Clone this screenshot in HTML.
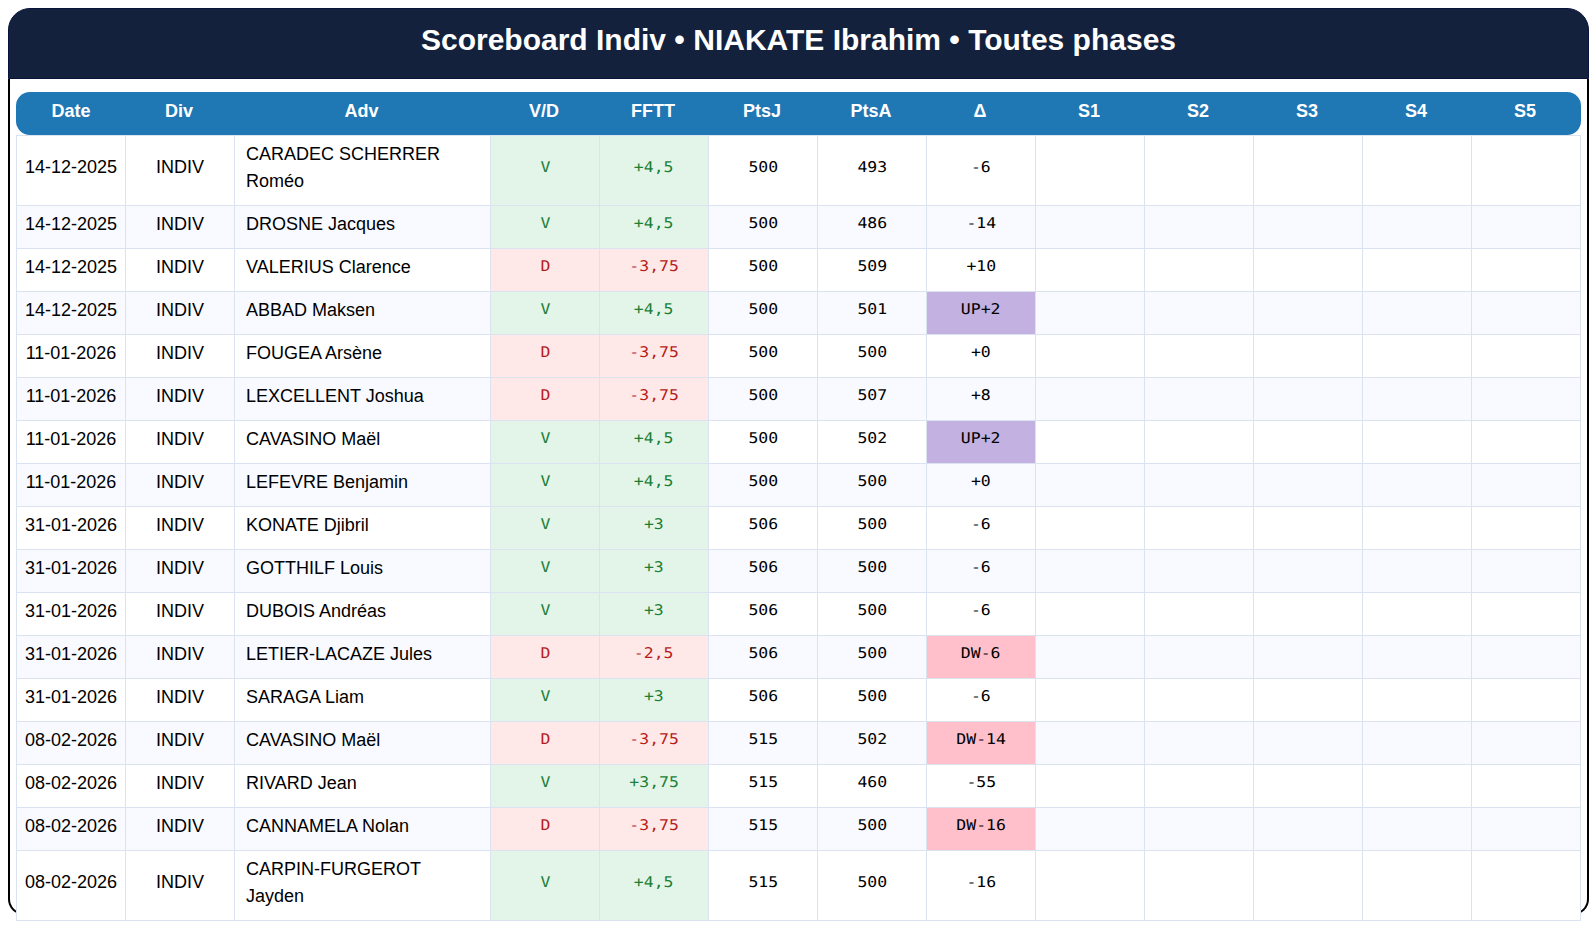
<!DOCTYPE html><html lang="fr"><head><meta charset="utf-8"><title>Scoreboard Indiv</title><style>
html,body{margin:0;padding:0;background:#fff;}
body{width:1596px;height:927px;overflow:hidden;position:relative;font-family:"Liberation Sans",Arial,sans-serif;color:#000;}
.card{position:absolute;left:8px;top:79px;width:1581px;height:836px;box-sizing:border-box;border:2px solid #000;border-top:none;border-radius:0 0 16px 16px;background:#fff;}
.title{position:absolute;left:8px;top:8px;width:1581px;height:71px;box-sizing:border-box;border:1px solid #07133a;border-radius:22px 22px 0 0;background:#14213d;color:#fff;font-weight:bold;font-size:30px;line-height:62px;text-align:center;}
table{position:absolute;left:16px;top:92px;width:1565px;border-collapse:separate;border-spacing:0;table-layout:fixed;}
col.c1{width:110px}col.cn{width:109px}col.ca{width:256px}
th{background:#1f77b4;color:#fff;font-weight:bold;font-size:18px;height:43px;padding:0 3px 4px 0;box-sizing:border-box;text-align:center;vertical-align:middle;}
th:first-child{border-radius:14px 0 0 14px;padding-right:0}
th:last-child{border-radius:0 14px 14px 0}
td{box-sizing:border-box;height:43px;border-right:1px solid #dbe3f0;border-bottom:1px solid #dbe3f0;padding:0 0 6px 0;font-size:18px;line-height:27px;text-align:center;vertical-align:middle;background:#fff;}
td:first-child{border-left:1px solid #dbe3f0}
tbody tr:first-child td{border-top:1px solid #dbe3f0;height:71px}
tr.alt td{background:#f8faff}
tr.tall td{height:70px}
td.adv{text-align:left;padding-left:11px}
td.m{font-family:"DejaVu Sans Mono","Liberation Mono",monospace;font-size:14.7px;padding-bottom:10px}
td.m span{display:inline-block;transform:scale(1.12,1) rotate(0.03deg)}
td.v,tr.alt td.v{background:#e3f4e8;color:#1b7f37}
td.d,tr.alt td.d{background:#ffe8e8;color:#b71c1c}
td.up,tr.alt td.up{background:#c3b1e1}
td.dw,tr.alt td.dw{background:#ffc0cb}
tr.tall td.m{padding-bottom:8px}

</style></head><body>
<div class="title">Scoreboard Indiv • NIAKATE Ibrahim • Toutes phases</div><div class="card"></div>
<table><colgroup><col class="c1"><col class="cn"><col class="ca"><col class="cn"><col class="cn"><col class="cn"><col class="cn"><col class="cn"><col class="cn"><col class="cn"><col class="cn"><col class="cn"><col class="cn"></colgroup>
<thead><tr><th>Date</th><th>Div</th><th>Adv</th><th>V/D</th><th>FFTT</th><th>PtsJ</th><th>PtsA</th><th>Δ</th><th>S1</th><th>S2</th><th>S3</th><th>S4</th><th>S5</th></tr></thead><tbody>
<tr class="tall"><td class="date">14-12-2025</td><td class="div">INDIV</td><td class="adv">CARADEC SCHERRER<br>Roméo</td><td class="m v"><span>V</span></td><td class="m v"><span>+4,5</span></td><td class="m"><span>500</span></td><td class="m"><span>493</span></td><td class="m "><span>-6</span></td><td></td><td></td><td></td><td></td><td></td></tr>
<tr class="alt"><td class="date">14-12-2025</td><td class="div">INDIV</td><td class="adv">DROSNE Jacques</td><td class="m v"><span>V</span></td><td class="m v"><span>+4,5</span></td><td class="m"><span>500</span></td><td class="m"><span>486</span></td><td class="m "><span>-14</span></td><td></td><td></td><td></td><td></td><td></td></tr>
<tr class=""><td class="date">14-12-2025</td><td class="div">INDIV</td><td class="adv">VALERIUS Clarence</td><td class="m d"><span>D</span></td><td class="m d"><span>-3,75</span></td><td class="m"><span>500</span></td><td class="m"><span>509</span></td><td class="m "><span>+10</span></td><td></td><td></td><td></td><td></td><td></td></tr>
<tr class="alt"><td class="date">14-12-2025</td><td class="div">INDIV</td><td class="adv">ABBAD Maksen</td><td class="m v"><span>V</span></td><td class="m v"><span>+4,5</span></td><td class="m"><span>500</span></td><td class="m"><span>501</span></td><td class="m up"><span>UP+2</span></td><td></td><td></td><td></td><td></td><td></td></tr>
<tr class=""><td class="date">11-01-2026</td><td class="div">INDIV</td><td class="adv">FOUGEA Arsène</td><td class="m d"><span>D</span></td><td class="m d"><span>-3,75</span></td><td class="m"><span>500</span></td><td class="m"><span>500</span></td><td class="m "><span>+0</span></td><td></td><td></td><td></td><td></td><td></td></tr>
<tr class="alt"><td class="date">11-01-2026</td><td class="div">INDIV</td><td class="adv">LEXCELLENT Joshua</td><td class="m d"><span>D</span></td><td class="m d"><span>-3,75</span></td><td class="m"><span>500</span></td><td class="m"><span>507</span></td><td class="m "><span>+8</span></td><td></td><td></td><td></td><td></td><td></td></tr>
<tr class=""><td class="date">11-01-2026</td><td class="div">INDIV</td><td class="adv">CAVASINO Maël</td><td class="m v"><span>V</span></td><td class="m v"><span>+4,5</span></td><td class="m"><span>500</span></td><td class="m"><span>502</span></td><td class="m up"><span>UP+2</span></td><td></td><td></td><td></td><td></td><td></td></tr>
<tr class="alt"><td class="date">11-01-2026</td><td class="div">INDIV</td><td class="adv">LEFEVRE Benjamin</td><td class="m v"><span>V</span></td><td class="m v"><span>+4,5</span></td><td class="m"><span>500</span></td><td class="m"><span>500</span></td><td class="m "><span>+0</span></td><td></td><td></td><td></td><td></td><td></td></tr>
<tr class=""><td class="date">31-01-2026</td><td class="div">INDIV</td><td class="adv">KONATE Djibril</td><td class="m v"><span>V</span></td><td class="m v"><span>+3</span></td><td class="m"><span>506</span></td><td class="m"><span>500</span></td><td class="m "><span>-6</span></td><td></td><td></td><td></td><td></td><td></td></tr>
<tr class="alt"><td class="date">31-01-2026</td><td class="div">INDIV</td><td class="adv">GOTTHILF Louis</td><td class="m v"><span>V</span></td><td class="m v"><span>+3</span></td><td class="m"><span>506</span></td><td class="m"><span>500</span></td><td class="m "><span>-6</span></td><td></td><td></td><td></td><td></td><td></td></tr>
<tr class=""><td class="date">31-01-2026</td><td class="div">INDIV</td><td class="adv">DUBOIS Andréas</td><td class="m v"><span>V</span></td><td class="m v"><span>+3</span></td><td class="m"><span>506</span></td><td class="m"><span>500</span></td><td class="m "><span>-6</span></td><td></td><td></td><td></td><td></td><td></td></tr>
<tr class="alt"><td class="date">31-01-2026</td><td class="div">INDIV</td><td class="adv">LETIER-LACAZE Jules</td><td class="m d"><span>D</span></td><td class="m d"><span>-2,5</span></td><td class="m"><span>506</span></td><td class="m"><span>500</span></td><td class="m dw"><span>DW-6</span></td><td></td><td></td><td></td><td></td><td></td></tr>
<tr class=""><td class="date">31-01-2026</td><td class="div">INDIV</td><td class="adv">SARAGA Liam</td><td class="m v"><span>V</span></td><td class="m v"><span>+3</span></td><td class="m"><span>506</span></td><td class="m"><span>500</span></td><td class="m "><span>-6</span></td><td></td><td></td><td></td><td></td><td></td></tr>
<tr class="alt"><td class="date">08-02-2026</td><td class="div">INDIV</td><td class="adv">CAVASINO Maël</td><td class="m d"><span>D</span></td><td class="m d"><span>-3,75</span></td><td class="m"><span>515</span></td><td class="m"><span>502</span></td><td class="m dw"><span>DW-14</span></td><td></td><td></td><td></td><td></td><td></td></tr>
<tr class=""><td class="date">08-02-2026</td><td class="div">INDIV</td><td class="adv">RIVARD Jean</td><td class="m v"><span>V</span></td><td class="m v"><span>+3,75</span></td><td class="m"><span>515</span></td><td class="m"><span>460</span></td><td class="m "><span>-55</span></td><td></td><td></td><td></td><td></td><td></td></tr>
<tr class="alt"><td class="date">08-02-2026</td><td class="div">INDIV</td><td class="adv">CANNAMELA Nolan</td><td class="m d"><span>D</span></td><td class="m d"><span>-3,75</span></td><td class="m"><span>515</span></td><td class="m"><span>500</span></td><td class="m dw"><span>DW-16</span></td><td></td><td></td><td></td><td></td><td></td></tr>
<tr class="tall"><td class="date">08-02-2026</td><td class="div">INDIV</td><td class="adv">CARPIN-FURGEROT<br>Jayden</td><td class="m v"><span>V</span></td><td class="m v"><span>+4,5</span></td><td class="m"><span>515</span></td><td class="m"><span>500</span></td><td class="m "><span>-16</span></td><td></td><td></td><td></td><td></td><td></td></tr>
</tbody></table></body></html>
